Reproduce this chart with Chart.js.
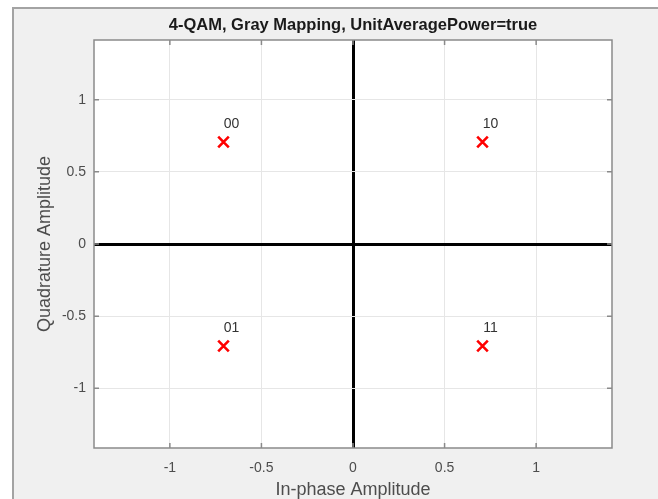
<!DOCTYPE html>
<html>
<head>
<meta charset="utf-8">
<script src="https://cdn.jsdelivr.net/npm/chart.js@4"></script>
<style>
  html, body { margin: 0; padding: 0; background: #fff; }
  #wrap { width: 658px; height: 499px; }
</style>
</head>
<body>
<div id="wrap"><canvas id="qam"></canvas></div>
<script>
// 4-QAM constellation, Gray mapped, unit average power.
const symI = [-0.7071, -0.7071, 0.7071, 0.7071];
const symQ = [0.7071, -0.7071, 0.7071, -0.7071];
const bitLabels = ["00", "01", "10", "11"];
const xTickVals = [-1, -0.5, 0, 0.5, 1];
const yTickVals = [-1, -0.5, 0, 0.5, 1];
const axisLim = 1.4142;

const FONT = "'Liberation Sans', Arial, sans-serif";
const BOX = "#8a8a8a";

// figure panel behind everything
const figureBg = {
  id: "figureBg",
  beforeDraw(chart) {
    const { ctx, width, height, chartArea: a } = chart;
    ctx.save();
    ctx.fillStyle = "#fff";
    ctx.fillRect(0, 0, width, height);
    ctx.fillStyle = "#f0f0f0";
    ctx.fillRect(12, 7, width - 12, height - 7);
    ctx.strokeStyle = "#a3a3a3";
    ctx.lineWidth = 2;
    ctx.beginPath();
    ctx.moveTo(13, height);
    ctx.lineTo(13, 8);
    ctx.lineTo(width, 8);
    ctx.stroke();
    ctx.fillStyle = "#fff";
    ctx.fillRect(a.left, a.top, a.right - a.left, a.bottom - a.top);
    ctx.restore();
  },
};

// axes box with inward ticks on all four sides
const axesBox = {
  id: "axesBox",
  afterDatasetsDraw(chart) {
    const { ctx, chartArea: a, scales } = chart;
    const len = 5;
    ctx.save();
    ctx.strokeStyle = BOX;
    ctx.lineWidth = 1.5;
    ctx.beginPath();
    scales.x.ticks.forEach((t) => {
      const px = scales.x.getPixelForValue(t.value);
      ctx.moveTo(px, a.bottom); ctx.lineTo(px, a.bottom - len);
      ctx.moveTo(px, a.top); ctx.lineTo(px, a.top + len);
    });
    scales.y.ticks.forEach((t) => {
      const py = scales.y.getPixelForValue(t.value);
      ctx.moveTo(a.left, py); ctx.lineTo(a.left + len, py);
      ctx.moveTo(a.right, py); ctx.lineTo(a.right - len, py);
    });
    ctx.stroke();
    ctx.strokeRect(a.left, a.top, a.right - a.left, a.bottom - a.top);
    ctx.restore();
  },
};

// bit labels above and right of each symbol
const bitText = {
  id: "bitText",
  afterDatasetsDraw(chart) {
    const { ctx } = chart;
    const meta = chart.getDatasetMeta(0);
    ctx.save();
    ctx.font = "14px " + FONT;
    ctx.fillStyle = "#333";
    ctx.textAlign = "center";
    ctx.textBaseline = "middle";
    meta.data.forEach((pt, i) => {
      ctx.fillText(bitLabels[i], pt.x + 8, pt.y - 17.5);
    });
    ctx.restore();
  },
};

const zeroOrGrid = (ctx) => (ctx.tick && ctx.tick.value === 0 ? "#000" : "#e6e6e6");
const zeroWidth = (ctx) => (ctx.tick && ctx.tick.value === 0 ? 3 : 1);

new Chart(document.getElementById("qam"), {
  type: "scatter",
  data: {
    datasets: [{
      data: symI.map((x, i) => ({ x, y: symQ[i] })),
      pointStyle: "crossRot",
      pointRadius: 7.5,
      pointBorderWidth: 2.6,
      borderColor: "#ff0000",
      backgroundColor: "#ff0000",
    }],
  },
  options: {
    responsive: true,
    maintainAspectRatio: false,
    animation: false,
    events: [],
    layout: { padding: { left: 0, right: 46, top: 0, bottom: 0 } },
    plugins: {
      legend: { display: false },
      tooltip: { enabled: false },
      title: {
        display: true,
        fullSize: false,
        text: "4-QAM, Gray Mapping, UnitAveragePower=true",
        color: "#1a1a1a",
        font: { family: FONT, size: 16.5, weight: "bold" },
        padding: { top: 15.1, bottom: 5.1 },
      },
    },
    scales: {
      x: {
        type: "linear",
        min: -axisLim,
        max: axisLim,
        afterBuildTicks: (s) => { s.ticks = xTickVals.map((v) => ({ value: v })); },
        afterFit: (s) => { s.height = 51; },
        grid: { color: zeroOrGrid, lineWidth: zeroWidth, drawTicks: false },
        border: { display: false },
        ticks: {
          padding: 12,
          color: "#4d4d4d",
          font: { family: FONT, size: 14 },
          callback: (v) => String(v),
        },
        title: {
          display: true,
          text: "In-phase Amplitude",
          color: "#4d4d4d",
          font: { family: FONT, size: 18 },
          padding: { top: 0, bottom: -2 },
        },
      },
      y: {
        type: "linear",
        min: -axisLim,
        max: axisLim,
        afterBuildTicks: (s) => { s.ticks = yTickVals.map((v) => ({ value: v })); },
        afterFit: (s) => { s.width = 94; },
        grid: { color: zeroOrGrid, lineWidth: zeroWidth, drawTicks: false },
        border: { display: false },
        ticks: {
          padding: 8,
          color: "#4d4d4d",
          font: { family: FONT, size: 14 },
          callback: (v) => String(v),
        },
        title: {
          display: true,
          text: "Quadrature Amplitude",
          color: "#4d4d4d",
          font: { family: FONT, size: 18 },
          padding: { top: 34, bottom: 0 },
        },
      },
    },
  },
  plugins: [figureBg, axesBox, bitText],
});
</script>
</body>
</html>
